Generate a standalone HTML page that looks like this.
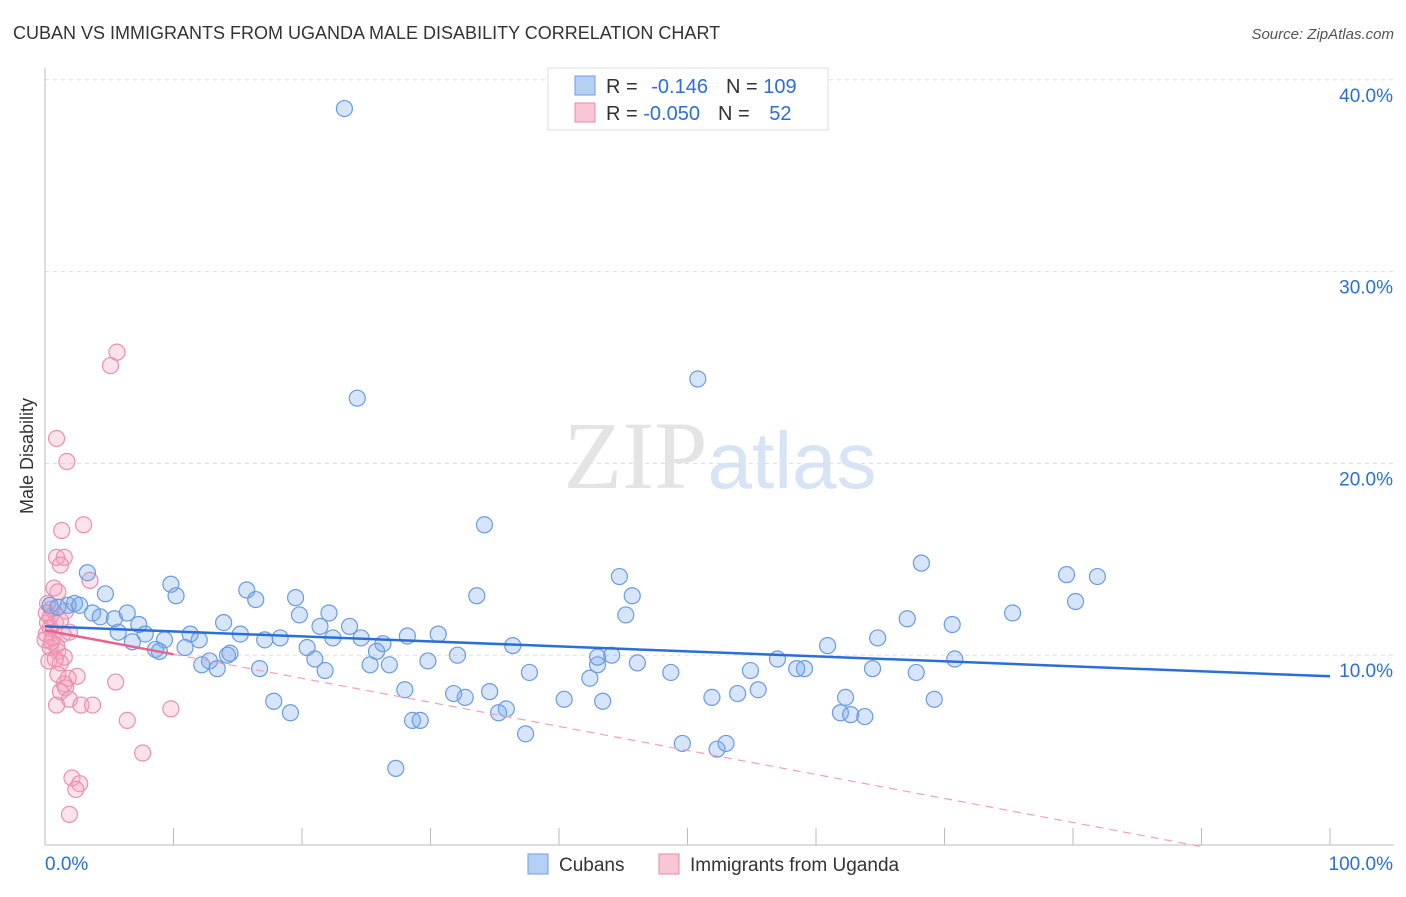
<!DOCTYPE html>
<html><head><meta charset="utf-8"><style>
body{margin:0;background:#fff;font-family:"Liberation Sans",sans-serif}
</style></head><body>
<svg width="1406" height="892" xmlns="http://www.w3.org/2000/svg" font-family="Liberation Sans, sans-serif">
<text x="13" y="39" font-size="18" fill="#333">CUBAN VS IMMIGRANTS FROM UGANDA MALE DISABILITY CORRELATION CHART</text>
<text x="1394" y="39" font-size="15" fill="#555" text-anchor="end" font-style="italic">Source: ZipAtlas.com</text>
<g id="grid"></g>
<text x="720" y="488" font-size="96" text-anchor="middle" fill="#e4e4e4" font-family="Liberation Serif, serif">ZIP<tspan fill="#d6e4f5" font-family="Liberation Sans, sans-serif" font-size="80">atlas</tspan></text>
<text transform="translate(33,456) rotate(-90)" font-size="18" fill="#333" text-anchor="middle">Male Disability</text>
<g id="pts"></g>
<g id="trend"></g>
<g>
<rect x="548" y="68" width="280" height="62" fill="#fff" stroke="#ddd"/>
<rect x="575" y="76" width="20" height="19" fill="#b5d0f5" stroke="#6a9be0"/>
<rect x="575" y="103" width="20" height="19" fill="#f9c6d6" stroke="#e88aa8"/>
<text x="606" y="93" font-size="20" fill="#333">R = <tspan fill="#2a6fd6" dx="8">-0.146</tspan><tspan dx="18" fill="#333">N = </tspan><tspan fill="#2a6fd6">109</tspan></text>
<text x="606" y="120" font-size="20" fill="#333">R = <tspan fill="#2a6fd6">-0.050</tspan><tspan dx="18" fill="#333">N = </tspan><tspan fill="#2a6fd6" dx="14">52</tspan></text>
</g>
<g>
<rect x="528" y="854" width="20" height="20" fill="#b5d0f5" stroke="#6a9be0"/>
<text x="559" y="871" font-size="19" fill="#333">Cubans</text>
<rect x="659" y="854" width="20" height="20" fill="#f9c6d6" stroke="#e88aa8"/>
<text x="690" y="871" font-size="19" fill="#333">Immigrants from Uganda</text>
</g>
</svg>
<script>
const yTicks=[10,20,30,40];
const yTickLabels=["10.0%","20.0%","30.0%","40.0%"];
const xTicks=[0,10,20,30,40,50,60,70,80,90,100];
const cubanX=[23.3,24.3,50.8,34.2,68.2,79.5,81.9,44.7,3.3,9.8,10.2,15.7,16.4,4.7,19.5,33.6,45.7,80.2,45.2,75.3,67.1,70.6,19.8,22.1,0.4,1.0,1.8,2.3,2.7,3.7,4.3,5.4,6.4,7.3,13.9,21.4,23.7,5.7,7.8,6.8,9.3,11.3,12.0,15.2,17.1,18.3,20.4,22.4,24.6,26.3,28.2,30.6,36.4,25.8,32.1,44.1,60.9,64.8,10.9,8.6,8.9,14.4,14.2,12.8,12.2,13.4,16.7,21.0,21.8,25.3,26.8,29.8,43.0,46.1,57.0,59.1,70.8,43.0,37.7,42.4,48.7,54.9,58.5,64.4,67.8,28.0,31.8,32.7,34.6,40.4,43.4,51.9,53.9,55.5,62.3,17.8,19.1,28.6,29.2,35.9,35.3,61.9,62.7,63.8,69.2,37.4,49.6,52.3,53.0,27.3];
const cubanY=[38.5,23.4,24.4,16.8,14.8,14.2,14.1,14.1,14.3,13.7,13.1,13.4,12.9,13.2,13.0,13.1,13.1,12.8,12.1,12.2,11.9,11.6,12.1,12.2,12.6,12.5,12.6,12.7,12.6,12.2,12.0,11.9,12.2,11.6,11.7,11.5,11.5,11.2,11.1,10.7,10.8,11.1,10.8,11.1,10.8,10.9,10.4,10.9,10.9,10.6,11.0,11.1,10.5,10.2,10.0,10.0,10.5,10.9,10.4,10.3,10.2,10.1,10.0,9.7,9.5,9.3,9.3,9.8,9.2,9.5,9.5,9.7,9.5,9.6,9.8,9.3,9.8,9.9,9.1,8.8,9.1,9.2,9.3,9.3,9.1,8.2,8.0,7.8,8.1,7.7,7.6,7.8,8.0,8.2,7.8,7.6,7.0,6.6,6.6,7.2,7.0,7.0,6.9,6.8,7.7,5.9,5.4,5.1,5.4,4.1];
const ugandaX=[5.6,5.1,0.9,1.7,3.0,1.3,0.9,1.5,1.2,3.5,0.7,1.0,0.2,0.5,0.2,0.8,0.4,0.1,0.6,1.4,0.9,0.4,1.0,1.5,1.2,0.3,0.8,2.5,1.8,1.5,1.6,1.2,5.5,1.9,2.8,3.7,0.9,9.8,6.4,7.6,2.1,2.7,2.4,1.9,0.4,0.1,1.2,0.5,1.6,1.9,0,1.0];
const ugandaY=[25.8,25.1,21.3,20.1,16.8,16.5,15.1,15.1,14.7,13.9,13.5,13.3,12.7,12.4,11.7,11.7,11.4,11.1,10.9,11.1,10.5,10.4,10.2,9.9,9.6,9.7,9.8,8.9,8.8,8.5,8.3,8.1,8.6,7.7,7.4,7.4,7.4,7.2,6.6,4.9,3.6,3.3,3.0,1.7,12.0,12.2,11.8,10.7,12.3,11.2,10.8,9.0];
const cubanTrend=[11.5,8.9];
const ugandaTrend=[11.3,-0.1253];
const ugandaSolidEnd=10;
const NS="http://www.w3.org/2000/svg";
const X=v=>45+v*12.85, Y=v=>847-v*19.18;
function mk(t,a,p){const e=document.createElementNS(NS,t);for(const k in a)e.setAttribute(k,a[k]);p.appendChild(e);return e;}
const grid=document.getElementById('grid');
yTicks.forEach((t,i)=>{
 const l=mk('line',{x1:45,x2:1394,y1:Y(t),y2:Y(t),stroke:'#ddd','stroke-dasharray':'4,4'},grid);
 
 
 const tx=mk('text',{x:1393,y:Y(t)+22,'font-size':19,fill:'#2a6fd6','text-anchor':'end'},grid);
 tx.textContent=yTickLabels[i];
 
 
});
const ax=mk('line',{x1:45,x2:1394,y1:845,y2:845,stroke:'#bbb'},grid);


const ay=mk('line',{x1:45,x2:45,y1:68,y2:845,stroke:'#bbb'},grid);


xTicks.forEach(t=>{const l=mk('line',{x1:X(t),x2:X(t),y1:828,y2:845,stroke:'#bbb'},grid);
 
 });
const x0=mk('text',{x:45,y:870,'font-size':19,fill:'#2a6fd6'},grid);x0.textContent='0.0%';


const x1=mk('text',{x:1393,y:870,'font-size':19,fill:'#2a6fd6','text-anchor':'end'},grid);x1.textContent='100.0%';


const pts=document.getElementById('pts');
ugandaX.forEach((x,i)=>{const c=mk('circle',{cx:X(x),cy:Y(ugandaY[i]),r:8,fill:'rgba(244,160,188,0.3)',stroke:'#ea8fae','stroke-width':1.2},pts);
 
 });
cubanX.forEach((x,i)=>{const c=mk('circle',{cx:X(x),cy:Y(cubanY[i]),r:8,fill:'rgba(120,170,235,0.3)',stroke:'#6a9be0','stroke-width':1.2},pts);
 
 });
const tr=document.getElementById('trend');
const bt=mk('line',{x1:X(0),y1:Y(cubanTrend[0]),x2:X(100),y2:Y(cubanTrend[1]),stroke:'#2a6fd6','stroke-width':2.5},tr);


const uy=x=>ugandaTrend[0]+ugandaTrend[1]*x;
const xEnd=-ugandaTrend[0]/ugandaTrend[1];
const pd=mk('line',{x1:X(ugandaSolidEnd),y1:Y(uy(ugandaSolidEnd)),x2:X(xEnd),y2:Y(0),stroke:'#f0a0bc','stroke-width':1.2,'stroke-dasharray':'8,6'},tr);


const ps=mk('line',{x1:X(0),y1:Y(uy(0)),x2:X(ugandaSolidEnd),y2:Y(uy(ugandaSolidEnd)),stroke:'#e8628e','stroke-width':2.5},tr);


</script>
</body></html>
